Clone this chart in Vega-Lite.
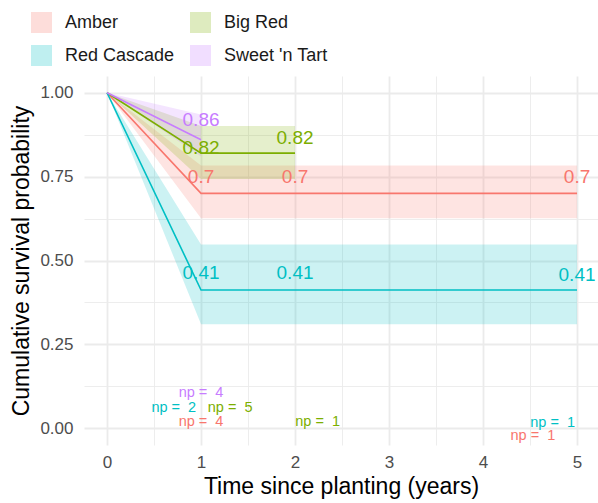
{
  "$schema": "https://vega.github.io/schema/vega-lite/v6.json",
  "width": 514,
  "height": 369,
  "autosize": {"type": "none"},
  "padding": {"left": 84, "top": 76, "right": 0, "bottom": 58},
  "background": "white",
  "config": {
    "font": "Liberation Sans",
    "view": {"stroke": null},
    "axis": {
      "domain": false,
      "ticks": false,
      "gridColor": "#EBEBEB",
      "labelColor": "#4D4D4D",
      "labelFontSize": 17,
      "labelFont": "Liberation Sans",
      "titleFont": "Liberation Sans",
      "titleFontSize": 23,
      "titleFontWeight": "normal",
      "titleColor": "#000000"
    }
  },
  "datasets": {
    "curves": [
      {"strata": "Amber", "time": 0, "surv": 1, "lower": 1, "upper": 1},
      {"strata": "Amber", "time": 1, "surv": 0.7, "lower": 0.626, "upper": 0.783},
      {"strata": "Amber", "time": 5, "surv": 0.7, "lower": 0.626, "upper": 0.783},
      {"strata": "Big Red", "time": 0, "surv": 1, "lower": 1, "upper": 1},
      {"strata": "Big Red", "time": 1, "surv": 0.82, "lower": 0.743, "upper": 0.901},
      {"strata": "Big Red", "time": 2, "surv": 0.82, "lower": 0.743, "upper": 0.901},
      {"strata": "Red Cascade", "time": 0, "surv": 1, "lower": 1, "upper": 1},
      {"strata": "Red Cascade", "time": 1, "surv": 0.412, "lower": 0.31, "upper": 0.548},
      {"strata": "Red Cascade", "time": 5, "surv": 0.412, "lower": 0.31, "upper": 0.548},
      {"strata": "Sweet 'n Tart", "time": 0, "surv": 1, "lower": 1, "upper": 1},
      {"strata": "Sweet 'n Tart", "time": 1, "surv": 0.86, "lower": 0.81, "upper": 0.935}
    ],
    "labels": [
      {"strata": "Amber", "time": 1, "ly": 0.749, "label": "0.7"},
      {"strata": "Amber", "time": 2, "ly": 0.749, "label": "0.7"},
      {"strata": "Amber", "time": 5, "ly": 0.749, "label": "0.7"},
      {"strata": "Red Cascade", "time": 1, "ly": 0.462, "label": "0.41"},
      {"strata": "Red Cascade", "time": 2, "ly": 0.462, "label": "0.41"},
      {"strata": "Red Cascade", "time": 5, "ly": 0.458, "label": "0.41"},
      {"strata": "Big Red", "time": 1, "ly": 0.836, "label": "0.82"},
      {"strata": "Big Red", "time": 2, "ly": 0.866, "label": "0.82"},
      {"strata": "Sweet 'n Tart", "time": 1, "ly": 0.919, "label": "0.86"}
    ],
    "np": [
      {"strata": "Sweet 'n Tart", "time": 1.0, "ly": 0.104, "label": "np = \u00a04"},
      {"strata": "Red Cascade", "time": 0.71, "ly": 0.061, "label": "np = \u00a02"},
      {"strata": "Big Red", "time": 1.31, "ly": 0.061, "label": "np = \u00a05"},
      {"strata": "Amber", "time": 1.0, "ly": 0.019, "label": "np = \u00a04"},
      {"strata": "Big Red", "time": 2.24, "ly": 0.019, "label": "np = \u00a01"},
      {"strata": "Red Cascade", "time": 4.74, "ly": 0.017, "label": "np = \u00a01"},
      {"strata": "Amber", "time": 4.53, "ly": -0.022, "label": "np = \u00a01"}
    ]
  },
  "encoding": {
    "x": {
      "field": "time",
      "type": "quantitative",
      "scale": {"domain": [-0.245, 5.223], "nice": false, "zero": false},
      "axis": {
        "title": "Time since planting (years)",
        "values": [0, 0.5, 1, 1.5, 2, 2.5, 3, 3.5, 4, 4.5, 5],
        "labelExpr": "datum.value % 1 === 0 ? format(datum.value, 'd') : ''",
        "labelOverlap": false,
        "labelPadding": 9,
        "titlePadding": 5,
        "gridWidth": {"condition": {"test": "datum.value % 1 !== 0", "value": 0.9}, "value": 1.8}
      }
    },
    "color": {
      "field": "strata",
      "type": "nominal",
      "scale": {
        "domain": ["Amber", "Big Red", "Red Cascade", "Sweet 'n Tart"],
        "range": ["#F8766D", "#7CAE00", "#00BFC4", "#C77CFF"]
      },
      "legend": {
        "title": null,
        "orient": "none",
        "legendX": -53,
        "legendY": -64,
        "direction": "horizontal",
        "columns": 2,
        "symbolType": "square",
        "symbolSize": 441,
        "symbolOpacity": 0.25,
        "symbolStrokeWidth": 0,
        "labelFontSize": 18,
        "labelFont": "Liberation Sans",
        "labelColor": "#1A1A1A",
        "labelOffset": 13,
        "rowPadding": 12,
        "columnPadding": 15
      }
    }
  },
  "layer": [
    {
      "data": {"name": "curves"},
      "mark": {"type": "area", "opacity": 0.2},
      "encoding": {
        "y": {
          "field": "lower",
          "type": "quantitative",
          "scale": {"domain": [-0.05, 1.05], "nice": false, "zero": false},
          "axis": {
            "title": "Cumulative survival probability",
            "values": [0, 0.125, 0.25, 0.375, 0.5, 0.625, 0.75, 0.875, 1],
            "labelExpr": "(datum.value * 4) % 1 === 0 ? format(datum.value, '.2f') : ''",
            "labelOverlap": false,
            "labelPadding": 11,
            "titlePadding": 6,
            "gridWidth": {"condition": {"test": "(datum.value * 4) % 1 !== 0", "value": 0.9}, "value": 1.8}
          }
        },
        "y2": {"field": "upper"}
      }
    },
    {
      "data": {"name": "curves"},
      "mark": {"type": "line", "strokeWidth": 1.6},
      "encoding": {
        "y": {"field": "surv", "type": "quantitative"}
      }
    },
    {
      "data": {"name": "labels"},
      "mark": {"type": "text", "fontSize": 19, "baseline": "middle", "align": "center"},
      "encoding": {
        "y": {"field": "ly", "type": "quantitative"},
        "text": {"field": "label"}
      }
    },
    {
      "data": {"name": "np"},
      "mark": {"type": "text", "fontSize": 14.5, "baseline": "middle", "align": "center"},
      "encoding": {
        "y": {"field": "ly", "type": "quantitative"},
        "text": {"field": "label"}
      }
    }
  ]
}
